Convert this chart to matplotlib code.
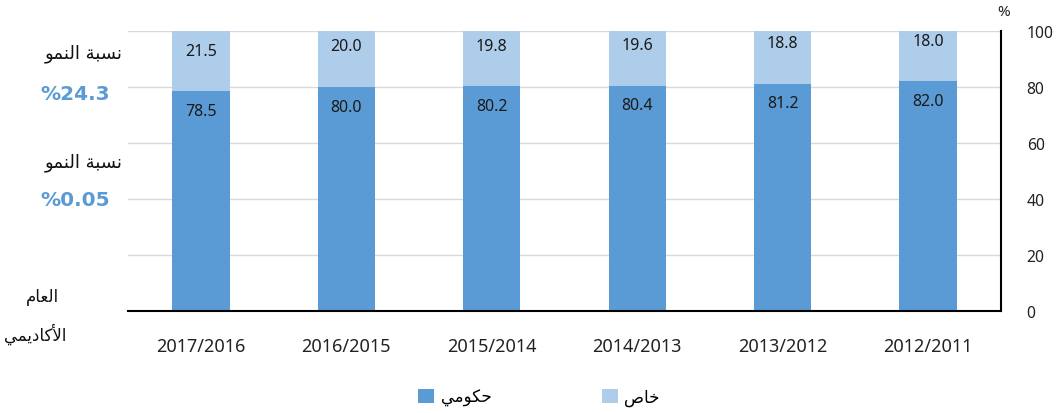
import matplotlib
matplotlib.use("Agg")
import matplotlib.pyplot as plt
from matplotlib.patches import Patch

years = ['2017/2016', '2016/2015', '2015/2014', '2014/2013', '2013/2012', '2012/2011']
gov = [78.5, 80.0, 80.2, 80.4, 81.2, 82.0]
priv = [21.5, 20.0, 19.8, 19.6, 18.8, 18.0]
yticks = [0, 20, 40, 60, 80, 100]
growth_label = 'نسبة النمو'
growth_values = ['%24.3', '%0.05']
year_title = ['العام', 'الأكاديمي']
series_names = ['حكومي', 'خاص']

DARK = '#5B9BD5'
LIGHT = '#AECDEA'

AR_FORMS = {
    'ا': ('\uFE8D', '\uFE8E', None, None),
    'أ': ('\uFE83', '\uFE84', None, None),
    'ب': ('\uFE8F', '\uFE90', '\uFE91', '\uFE92'),
    'ة': ('\uFE93', '\uFE94', None, None),
    'ح': ('\uFEA1', '\uFEA2', '\uFEA3', '\uFEA4'),
    'خ': ('\uFEA5', '\uFEA6', '\uFEA7', '\uFEA8'),
    'د': ('\uFEA9', '\uFEAA', None, None),
    'س': ('\uFEB1', '\uFEB2', '\uFEB3', '\uFEB4'),
    'ص': ('\uFEB9', '\uFEBA', '\uFEBB', '\uFEBC'),
    'ع': ('\uFEC9', '\uFECA', '\uFECB', '\uFECC'),
    'ك': ('\uFED9', '\uFEDA', '\uFEDB', '\uFEDC'),
    'ل': ('\uFEDD', '\uFEDE', '\uFEDF', '\uFEE0'),
    'م': ('\uFEE1', '\uFEE2', '\uFEE3', '\uFEE4'),
    'ن': ('\uFEE5', '\uFEE6', '\uFEE7', '\uFEE8'),
    'و': ('\uFEED', '\uFEEE', None, None),
    'ي': ('\uFEF1', '\uFEF2', '\uFEF3', '\uFEF4'),
}
LAM_ALEF = {'ا': ('\uFEFB', '\uFEFC'), 'أ': ('\uFEF7', '\uFEF8')}


def shape(text):
    chars = list(text)
    units = []
    i = 0
    while i < len(chars):
        c = chars[i]
        if c == 'ل' and i + 1 < len(chars) and chars[i + 1] in LAM_ALEF:
            iso, fin = LAM_ALEF[chars[i + 1]]
            units.append((iso, fin, None, None))
            i += 2
            continue
        units.append(AR_FORMS.get(c, (c, None, None, None)))
        i += 1
    out = []
    for k, u in enumerate(units):
        prev = units[k - 1] if k > 0 else None
        nxt = units[k + 1] if k + 1 < len(units) else None
        jp = prev is not None and prev[2] is not None and u[1] is not None
        jn = nxt is not None and u[2] is not None and nxt[1] is not None
        if jp and jn:
            out.append(u[3])
        elif jp:
            out.append(u[1])
        elif jn:
            out.append(u[2])
        else:
            out.append(u[0])
    return ''.join(reversed(out))


AR_FONT = ['DejaVu Sans']
NUM_FONT = ['Noto Sans', 'DejaVu Sans']

fig = plt.figure(figsize=(10.6, 4.14), dpi=100)
ax = fig.add_axes([0.1208, 0.2464, 0.8235, 0.6763])

x = list(range(len(years)))
w = 0.395
ax.bar(x, gov, width=w, color=DARK, zorder=3)
ax.bar(x, priv, width=w, bottom=gov, color=LIGHT, zorder=3)

for xi, g, p in zip(x, gov, priv):
    ax.text(xi, g - 7, f'{g:.1f}', ha='center', va='center', fontsize=11.5,
            family=NUM_FONT, color='#1a1a1a', zorder=4)
    ax.text(xi, g + 14.5, f'{p:.1f}', ha='center', va='center', fontsize=11.5,
            family=NUM_FONT, color='#1a1a1a', zorder=4)

ax.set_xlim(-0.5, len(years) - 0.5)
ax.set_ylim(0, 100)
ax.set_yticks(yticks)
ax.yaxis.tick_right()
ax.set_yticklabels([str(t) for t in yticks], family=NUM_FONT, fontsize=11.3,
                   color='#222222', ha='left')
ax.tick_params(axis='y', length=0, pad=18.5)
ax.set_xticks(x)
ax.set_xticklabels(years, family=NUM_FONT, fontsize=13, color='#222222')
ax.tick_params(axis='x', length=0, pad=18.5)

ax.grid(axis='y', color='#D9D9D9', linewidth=1.0, zorder=0)
for s in ['top', 'left']:
    ax.spines[s].set_visible(False)
ax.spines['bottom'].set_color('black')
ax.spines['bottom'].set_linewidth(1.5)
ax.spines['right'].set_color('black')
ax.spines['right'].set_linewidth(1.5)
ax.spines['bottom'].set_zorder(5)

fig.text(1004 / 1060, 1 - 13 / 414, '%', ha='center', va='center',
         family=NUM_FONT, fontsize=11, color='#222222')

# left annotations
fig.text(84 / 1060, 1 - 54 / 414, shape(growth_label), ha='center', va='center',
         family=AR_FONT, fontsize=13, color='#111111')
fig.text(75 / 1060, 1 - 94 / 414, growth_values[0], ha='center', va='center',
         family=['DejaVu Sans'], fontsize=14.5, fontweight='bold', color=DARK)
fig.text(84 / 1060, 1 - 163 / 414, shape(growth_label), ha='center', va='center',
         family=AR_FONT, fontsize=13, color='#111111')
fig.text(75 / 1060, 1 - 201 / 414, growth_values[1], ha='center', va='center',
         family=['DejaVu Sans'], fontsize=14.5, fontweight='bold', color=DARK)
fig.text(42 / 1060, 1 - 297 / 414, shape(year_title[0]), ha='center', va='center',
         family=AR_FONT, fontsize=12, color='#111111')
fig.text(35 / 1060, 1 - 334 / 414, shape(year_title[1]), ha='center', va='center',
         family=AR_FONT, fontsize=12, color='#111111')

handles = [Patch(facecolor=DARK), Patch(facecolor=LIGHT)]
fig.legend(handles, [shape(n) for n in series_names], loc='center',
           bbox_to_anchor=(539 / 1060, 1 - 398 / 414), ncol=2, frameon=False,
           prop={'family': AR_FONT, 'size': 12}, handlelength=0.95,
           handleheight=0.95, handletextpad=0.4, columnspacing=6.6)

fig.savefig('out.png', dpi=100, facecolor='white')
